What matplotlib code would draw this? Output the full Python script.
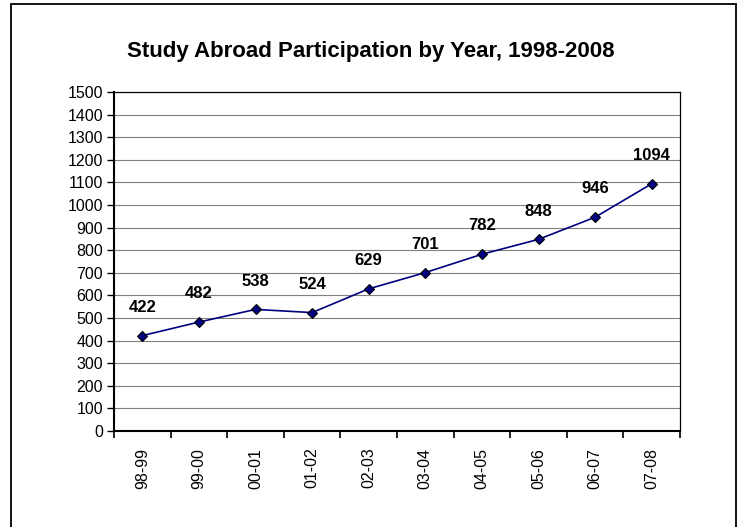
import numpy as np
import matplotlib.pyplot as plt
from matplotlib.patches import Rectangle

years = ['98-99', '99-00', '00-01', '01-02', '02-03', '03-04', '04-05', '05-06', '06-07', '07-08']
participants = [422, 482, 538, 524, 629, 701, 782, 848, 946, 1094]

plt.rcParams['font.family'] = ['Liberation Sans', 'DejaVu Sans']

fig = plt.figure(figsize=(7.42, 5.27), dpi=100)
W, H = 742, 527
ax = fig.add_axes([114 / W, 1 - 431 / H, (680 - 114) / W, (431 - 92) / H])

x = np.arange(len(years))
ax.plot(x, participants, color='#000080', lw=1.2, marker='D', ms=5.5,
        mfc='#000080', mec='black', mew=0.8, zorder=3)
for xi, v in zip(x, participants):
    ax.annotate(str(v), (xi, v), xytext=(0, 15), textcoords='offset points',
                ha='center', va='bottom', fontsize=12, fontweight='bold')

ax.set_xlim(-0.5, len(years) - 0.5)
ax.set_ylim(0, 1500)
ax.set_yticks(np.arange(0, 1501, 100))
ax.yaxis.grid(True, color='#808080', lw=0.8)
ax.set_axisbelow(True)

ax.set_xticks(x)
ax.set_xticklabels(years, rotation=90, fontsize=11.5)
ax.tick_params(axis='x', length=0, pad=12)
ax.set_xticks(np.arange(-0.5, len(years), 1), minor=True)
ax.tick_params(axis='x', which='minor', length=5, width=1.2, direction='out')
ax.tick_params(axis='y', labelsize=11.5, length=5, width=1, direction='out', pad=3)

for s in ['top', 'right']:
    ax.spines[s].set_color('black')
    ax.spines[s].set_linewidth(0.9)
for s in ['left', 'bottom']:
    ax.spines[s].set_linewidth(1.5)

fig.text(0.5, 1 - 52 / H, 'Study Abroad Participation by Year, 1998-2008',
         ha='center', va='center', fontsize=16, fontweight='bold')

# outer chart border, its bottom edge is cut off in the original
fig.patches.append(Rectangle((10.5 / W, -0.05), (736 - 10.5) / W, 1.05 - 4 / H,
                             transform=fig.transFigure, fill=False, ec='black', lw=1.3))

plt.savefig('out.png', dpi=100)
